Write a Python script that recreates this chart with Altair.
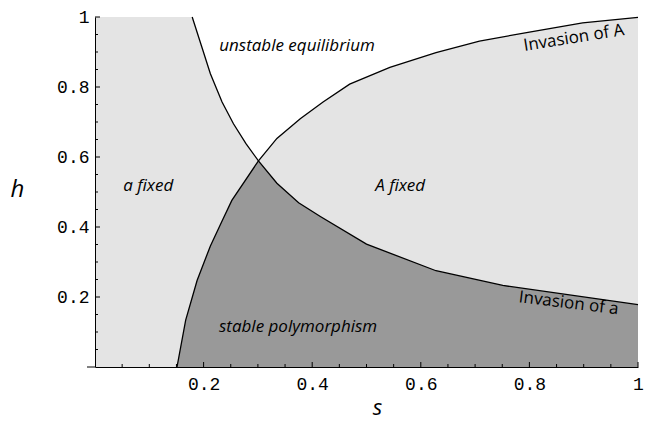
import altair as alt
import pandas as pd

# Boundary curves (s, h)
dec_s = [0.179, 0.196, 0.2125, 0.234, 0.255, 0.278, 0.301, 0.335, 0.375, 0.415, 0.5, 0.628, 0.751, 1.0]
dec_h = [1.0, 0.918, 0.838, 0.757, 0.695, 0.638, 0.589, 0.525, 0.469, 0.430, 0.351, 0.275, 0.233, 0.178]
inc_s = [0.151, 0.167, 0.188, 0.2125, 0.234, 0.252, 0.301, 0.335, 0.378, 0.42, 0.469, 0.543, 0.628, 0.708, 0.8, 0.898, 1.0]
inc_h = [0.0, 0.134, 0.247, 0.346, 0.417, 0.476, 0.589, 0.653, 0.709, 0.757, 0.808, 0.856, 0.898, 0.931, 0.957, 0.983, 0.999]
cross_s = 0.301

major_ticks = [0.2, 0.4, 0.6, 0.8, 1.0]
minor_ticks = [0.05, 0.1, 0.15, 0.25, 0.3, 0.35, 0.45, 0.5, 0.55, 0.65, 0.7, 0.75,
               0.85, 0.9, 0.95]

label_text = ["unstable equilibrium", "a fixed", "A fixed", "stable polymorphism"]
label_s = [0.372, 0.098, 0.562, 0.374]
label_h = [0.918, 0.516, 0.516, 0.115]

W, H = 543, 350

dec = pd.DataFrame({"s": dec_s, "h": dec_h})
inc = pd.DataFrame({"s": inc_s, "h": inc_h})

white = pd.concat([dec[dec.s <= cross_s], inc[inc.s > cross_s]])
white["top"] = 1.0
dark = pd.concat([inc[inc.s <= cross_s], dec[dec.s > cross_s]])
dark["bottom"] = 0.0

xscale = alt.Scale(domain=[0, 1], nice=False, zero=False)
yscale = alt.Scale(domain=[0, 1], nice=False, zero=False)

x_axis = alt.Axis(values=major_ticks, format=".1~f", ticks=False, tickSize=0, grid=False,
                  domainColor="black", domainWidth=1, labelFont="Liberation Mono",
                  labelFontSize=18, labelColor="black", labelPadding=8, labelFlush=False,
                  title="s", titleFont="Open Sans", titleFontStyle="italic",
                  titleFontWeight="normal", titleFontSize=22, titleColor="black",
                  titleX=282, titleY=47, titleBaseline="alphabetic", titleAlign="center")
y_axis = alt.Axis(values=major_ticks, format=".1~f", ticks=False, tickSize=0, grid=False,
                  domainColor="black", domainWidth=1, labelFont="Liberation Mono",
                  labelFontSize=18, labelColor="black", labelPadding=6, labelFlush=False,
                  title="h", titleFont="Open Sans", titleFontStyle="italic",
                  titleFontWeight="normal", titleFontSize=24, titleColor="black",
                  titleAngle=0, titleX=-78, titleY=172, titleBaseline="middle",
                  titleAlign="center")


def X(field):
    return alt.X(field, scale=xscale, axis=x_axis)


def Y(field):
    return alt.Y(field, scale=yscale, axis=y_axis)


white_area = alt.Chart(white).mark_area(color="white", opacity=1).encode(
    x=X("s:Q"), y=Y("h:Q"), y2="top:Q",
)
dark_area = alt.Chart(dark).mark_area(color="#999999", opacity=1).encode(
    x=X("s:Q"), y=Y("h:Q"), y2="bottom:Q",
)
dec_line = alt.Chart(dec).mark_line(color="black", strokeWidth=1.3).encode(
    x=X("s:Q"), y=Y("h:Q"),
)
inc_line = alt.Chart(inc).mark_line(color="black", strokeWidth=1.3).encode(
    x=X("s:Q"), y=Y("h:Q"),
)

ticks_major = pd.DataFrame({"v": major_ticks})
ticks_minor = pd.DataFrame({"v": minor_ticks})

xt_major = alt.Chart(ticks_major).mark_rule(color="black", strokeWidth=1).encode(
    x=X("v:Q"), y=alt.value(H), y2=alt.value(H - 5))
xt_minor = alt.Chart(ticks_minor).mark_rule(color="black", strokeWidth=1).encode(
    x=X("v:Q"), y=alt.value(H), y2=alt.value(H - 3))
yt_major = alt.Chart(ticks_major).mark_rule(color="black", strokeWidth=1).encode(
    y=Y("v:Q"), x=alt.value(0), x2=alt.value(5))
yt_minor = alt.Chart(ticks_minor).mark_rule(color="black", strokeWidth=1).encode(
    y=Y("v:Q"), x=alt.value(0), x2=alt.value(3))

axis_ext = alt.Chart(pd.DataFrame({"v": [0]})).mark_rule(color="black", strokeWidth=1).encode(
    x=alt.value(-8), x2=alt.value(0), y=alt.value(H))

labels = pd.DataFrame({"t": label_text, "s": label_s, "h": label_h})
region_text = alt.Chart(labels).mark_text(
    font="Open Sans", fontStyle="italic", fontSize=17, color="black"
).encode(x=X("s:Q"), y=Y("h:Q"), text="t:N")

invA = alt.Chart(pd.DataFrame({"t": ["Invasion of A"], "s": [0.882], "h": [0.94]})).mark_text(
    font="Open Sans", fontSize=17, color="black", angle=351
).encode(x=X("s:Q"), y=Y("h:Q"), text="t:N")
inva = alt.Chart(pd.DataFrame({"t": ["Invasion of a"], "s": [0.8725], "h": [0.182]})).mark_text(
    font="Open Sans", fontSize=17, color="black", angle=7
).encode(x=X("s:Q"), y=Y("h:Q"), text="t:N")

chart = alt.layer(
    white_area, dark_area, dec_line, inc_line,
    xt_major, xt_minor, yt_major, yt_minor, axis_ext,
    region_text, invA, inva,
).properties(
    width=W, height=H,
    autosize=alt.AutoSizeParams(type="none"),
    padding={"left": 87, "top": 9, "right": 6, "bottom": 54},
).configure_view(fill="#e4e4e4", stroke=None)

chart.save("out.html", embed_options={"renderer": "svg", "actions": False})
